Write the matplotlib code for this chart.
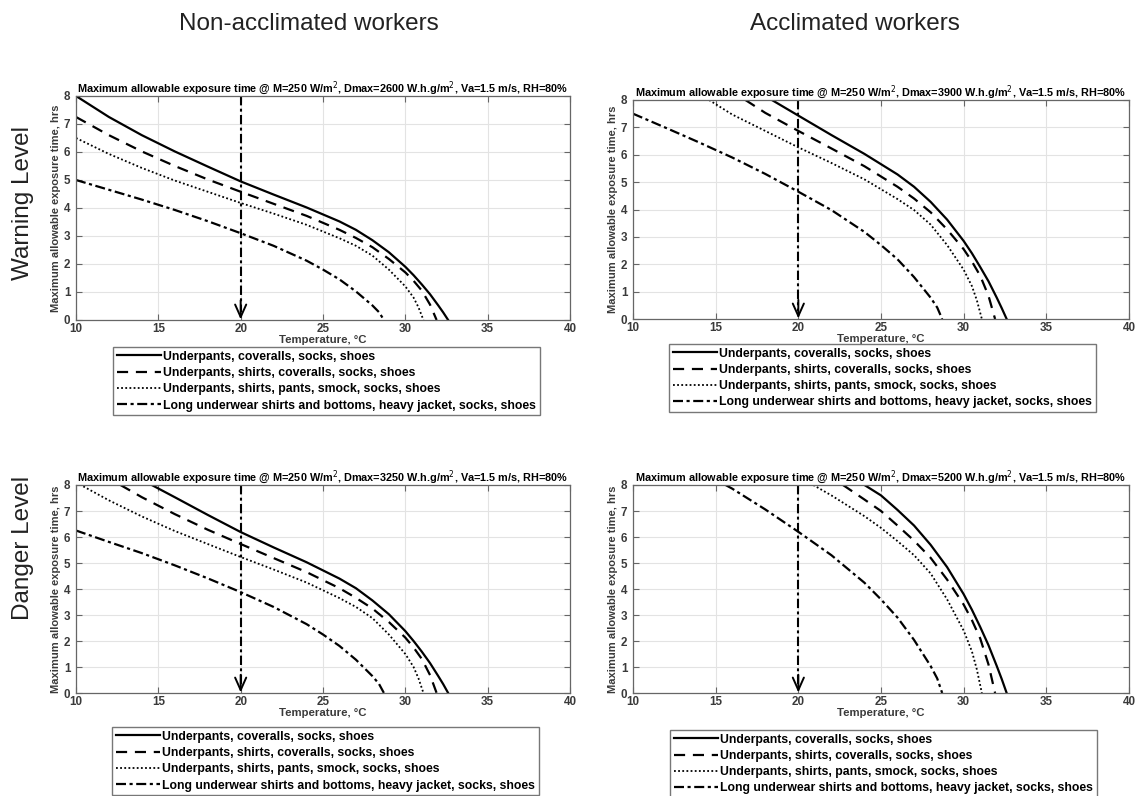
import matplotlib.pyplot as plt

plt.rcParams['font.family'] = ['Liberation Sans', 'DejaVu Sans']

clothing = [
    'Underpants, coveralls, socks, shoes',
    'Underpants, shirts, coveralls, socks, shoes',
    'Underpants, shirts, pants, smock, socks, shoes',
    'Long underwear shirts and bottoms, heavy jacket, socks, shoes',
]
reference_temp = 20

# Warning level, non-acclimated (Dmax = 2600)
warn_nonacc_temp = [
    [10, 12, 14, 16, 18, 20, 22, 24, 26, 27, 28, 29, 30, 30.5, 31, 31.5, 32, 32.3, 32.6],
    [10, 12, 14, 16, 18, 20, 22, 24, 26, 27, 28, 29, 30, 30.5, 31, 31.5, 31.9],
    [10, 12, 14, 16, 18, 20, 22, 24, 26, 27, 28, 29, 30, 30.5, 30.8, 31.1],
    [10, 12, 14, 16, 18, 20, 22, 24, 25, 26, 27, 28, 28.4, 28.7],
]
warn_nonacc_hrs = [
    [8.0, 7.25, 6.6, 6.02, 5.48, 4.95, 4.48, 4.02, 3.52, 3.22, 2.85, 2.42, 1.9, 1.6, 1.27, 0.92, 0.52, 0.27, 0.0],
    [7.25, 6.6, 6.02, 5.5, 5.02, 4.58, 4.15, 3.72, 3.22, 2.93, 2.6, 2.18, 1.7, 1.4, 1.05, 0.55, 0.0],
    [6.5, 5.93, 5.43, 4.98, 4.58, 4.18, 3.8, 3.4, 2.92, 2.65, 2.3, 1.8, 1.2, 0.8, 0.45, 0.0],
    [5.0, 4.65, 4.3, 3.93, 3.53, 3.1, 2.65, 2.12, 1.8, 1.45, 1.02, 0.52, 0.28, 0.0],
]

# Warning level, acclimated (Dmax = 3900)
warn_acc_temp = [
    [18.4, 20, 22, 24, 26, 27, 28, 29, 30, 30.5, 31, 31.5, 32, 32.3, 32.6],
    [16.8, 18, 20, 22, 24, 26, 27, 28, 29, 30, 30.5, 31, 31.5, 31.9],
    [14.6, 16, 18, 20, 22, 24, 26, 27, 28, 29, 30, 30.5, 30.8, 31.1],
    [10, 12, 14, 16, 18, 20, 22, 24, 25, 26, 27, 28, 28.4, 28.7],
]
warn_acc_hrs = [
    [8.0, 7.43, 6.72, 6.03, 5.28, 4.83, 4.28, 3.63, 2.85, 2.4, 1.9, 1.38, 0.78, 0.4, 0.0],
    [8.0, 7.53, 6.87, 6.23, 5.58, 4.83, 4.4, 3.9, 3.27, 2.55, 2.1, 1.58, 0.85, 0.0],
    [8.0, 7.47, 6.87, 6.27, 5.7, 5.1, 4.38, 3.98, 3.45, 2.7, 1.8, 1.2, 0.68, 0.0],
    [7.5, 6.98, 6.45, 5.9, 5.3, 4.65, 3.98, 3.18, 2.7, 2.18, 1.53, 0.78, 0.42, 0.0],
]

# Danger level, non-acclimated (Dmax = 3250)
danger_nonacc_temp = [
    [14.6, 16, 18, 20, 22, 24, 26, 27, 28, 29, 30, 30.5, 31, 31.5, 32, 32.3, 32.6],
    [12.7, 14, 16, 18, 20, 22, 24, 26, 27, 28, 29, 30, 30.5, 31, 31.5, 31.9],
    [10, 12, 14, 16, 18, 20, 22, 24, 26, 27, 28, 29, 30, 30.5, 30.8, 31.1],
    [10, 12, 14, 16, 18, 20, 22, 24, 25, 26, 27, 28, 28.4, 28.7],
]
danger_nonacc_hrs = [
    [8.0, 7.53, 6.85, 6.19, 5.6, 5.03, 4.4, 4.03, 3.56, 3.03, 2.38, 2.0, 1.59, 1.15, 0.65, 0.34, 0.0],
    [8.0, 7.53, 6.88, 6.28, 5.73, 5.19, 4.65, 4.03, 3.66, 3.25, 2.73, 2.13, 1.75, 1.31, 0.69, 0.0],
    [8.1, 7.41, 6.79, 6.23, 5.73, 5.23, 4.75, 4.25, 3.65, 3.31, 2.88, 2.25, 1.5, 1.0, 0.56, 0.0],
    [6.25, 5.81, 5.38, 4.91, 4.41, 3.88, 3.31, 2.65, 2.25, 1.81, 1.28, 0.65, 0.35, 0.0],
]

# Danger level, acclimated (Dmax = 5200)
danger_acc_temp = [
    [24, 25, 26, 27, 28, 29, 30, 30.5, 31, 31.5, 32, 32.3, 32.6],
    [22.7, 24, 25, 26, 27, 28, 29, 30, 30.5, 31, 31.5, 31.9],
    [20.9, 22, 24, 25, 26, 27, 28, 29, 30, 30.5, 30.8, 31.1],
    [15.6, 16, 18, 20, 22, 24, 25, 26, 27, 28, 28.4, 28.7],
]
danger_acc_hrs = [
    [8.0, 7.6, 7.04, 6.44, 5.7, 4.84, 3.8, 3.2, 2.54, 1.84, 1.04, 0.54, 0.0],
    [8.0, 7.44, 7.0, 6.44, 5.86, 5.2, 4.36, 3.4, 2.8, 2.1, 1.1, 0.0],
    [8.0, 7.6, 6.8, 6.35, 5.84, 5.3, 4.6, 3.6, 2.4, 1.6, 0.9, 0.0],
    [8.0, 7.86, 7.06, 6.2, 5.3, 4.24, 3.6, 2.9, 2.04, 1.04, 0.56, 0.0],
]

dmax_values = [2600, 3900, 3250, 5200]

styles = [
    dict(linestyle='-', linewidth=1.6),
    dict(linestyle=(0, (5, 3.5)), linewidth=1.6),
    dict(linestyle=(0, (1, 1.3)), linewidth=1.3),
    dict(linestyle=(0, (4.5, 1.6, 1.4, 1.6)), linewidth=1.6),
]

W, H = 1137, 796
# (left, top, right, bottom) in pixels
axes_px = [(76, 96, 570, 320), (633, 100, 1129, 319),
           (76, 485, 570, 693), (633, 485, 1129, 693)]
legend_px = [(113, 347), (669, 344), (112, 727), (670, 730)]

panels = [
    (warn_nonacc_temp, warn_nonacc_hrs),
    (warn_acc_temp, warn_acc_hrs),
    (danger_nonacc_temp, danger_nonacc_hrs),
    (danger_acc_temp, danger_acc_hrs),
]

fig = plt.figure(figsize=(W / 100, H / 100), dpi=100)
gray_text = '#3a3a3a'

for (temps, hrs), dmax, (l, t, r, b), (lx, ly) in zip(panels, dmax_values, axes_px, legend_px):
    ax = fig.add_axes([l / W, 1 - b / H, (r - l) / W, (b - t) / H])
    handles = []
    for tt, hh, st, name in zip(temps, hrs, styles, clothing):
        line, = ax.plot(tt, hh, color='black', label=name, clip_on=True, **st)
        handles.append(line)

    # reference temperature marker with arrow
    ax.plot([reference_temp, reference_temp], [8, 0.3], color='black', linewidth=1.5,
            linestyle=(0, (4.5, 1.6, 1.4, 1.6)))
    ax.annotate('', xy=(reference_temp, 0.02), xytext=(reference_temp, 0.7),
                arrowprops=dict(arrowstyle='->,head_length=0.9,head_width=0.4',
                                color='black', lw=1.4, shrinkA=0, shrinkB=0))

    ax.set_xlim(10, 40)
    ax.set_ylim(0, 8)
    ax.set_xticks(range(10, 41, 5))
    ax.set_yticks(range(0, 9))
    ax.grid(True, color='#e3e3e3', linewidth=0.8)
    ax.set_axisbelow(True)
    ax.tick_params(direction='in', top=True, right=True, length=4, width=0.8,
                   color='#666666', labelcolor=gray_text, labelsize=8.4)
    ax.tick_params(axis='x', pad=2.5)
    ax.tick_params(axis='y', pad=4)
    for lbl in ax.get_xticklabels() + ax.get_yticklabels():
        lbl.set_fontweight('bold')
    for sp in ax.spines.values():
        sp.set_color('#666666')
        sp.set_linewidth(0.9)

    ax.set_title('Maximum allowable exposure time @ M=250 W/m$^2$, Dmax=%d W.h.g/m$^2$, '
                 'Va=1.5 m/s, RH=80%%' % dmax, fontsize=7.8, fontweight='bold', pad=3)
    ax.set_xlabel('Temperature, °C', fontsize=8.2, fontweight='bold', color=gray_text, labelpad=0)
    ax.set_ylabel('Maximum allowable exposure time, hrs', fontsize=8.0, fontweight='bold',
                  color=gray_text, labelpad=2)

    leg = fig.legend(handles=handles, loc='upper left', bbox_to_anchor=(lx / W, 1 - ly / H),
                     borderaxespad=0, fancybox=False, framealpha=1, edgecolor='#777777',
                     prop=dict(size=8.8, weight='bold'), handlelength=3.6, handletextpad=0.2,
                     labelspacing=0.35, borderpad=0.3)
    leg.get_frame().set_linewidth(1.0)

fig.text(309 / W, 1 - 24 / H, 'Non-acclimated workers', fontsize=17.5, ha='center', va='center',
         color='#222222')
fig.text(855 / W, 1 - 24 / H, 'Acclimated workers', fontsize=17.5, ha='center', va='center',
         color='#222222')
fig.text(23 / W, 1 - 203 / H, 'Warning Level', fontsize=17.5, rotation=90, ha='center', va='center',
         color='#222222')
fig.text(23 / W, 1 - 548 / H, 'Danger Level', fontsize=17.5, rotation=90, ha='center', va='center',
         color='#222222')

fig.savefig('out.png', dpi=100)
